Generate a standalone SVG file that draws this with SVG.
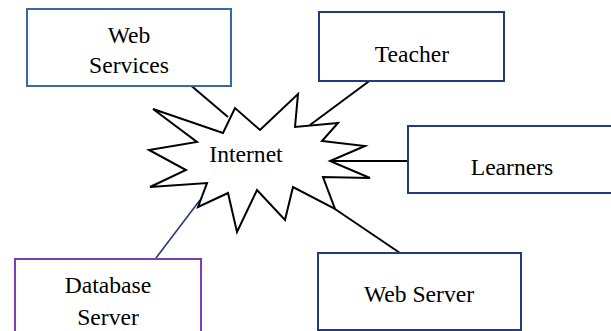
<svg xmlns="http://www.w3.org/2000/svg" width="611" height="331" viewBox="0 0 611 331">
<style>
.box{fill:#fff;stroke:#1f3d7a;stroke-width:2}
.t{font-family:'Liberation Serif','Times New Roman','DejaVu Serif',serif;font-size:23.6px;fill:#000;text-anchor:middle}
.c{fill:none;stroke:#000;stroke-width:2}
</style>
<rect width="611" height="331" fill="#fff"/>
<g id="connectors">
<line class="c" x1="188" y1="83" x2="228" y2="117"/>
<line class="c" x1="372" y1="79" x2="310" y2="125"/>
<line class="c" x1="330" y1="161" x2="408" y2="161"/>
<line class="c" x1="335" y1="209" x2="400" y2="253"/>
<line x1="200" y1="200" x2="156" y2="258" stroke="#1f3d7a" stroke-width="1.6"/>
</g>
<g id="internet">
<polygon fill="#fff" stroke="#000" stroke-width="2" stroke-linejoin="miter" points="153,109 223,133 235,108 260,130 298,94 295,127 338,123 322,141 365,146 330,161 370,178 323,177 335,209 293,187 285,220 257,190 237,232 228,193 198,207 207,183 150,187 186,170 149,150 197,142"/>
<text class="t" x="246" y="162">Internet</text>
</g>
<g id="web-services">
<rect class="box" x="27" y="9" width="204" height="77" style="stroke:#3b6aa3"/>
<text class="t" x="129" y="43">Web</text>
<text class="t" x="129" y="73">Services</text>
</g>
<g id="teacher">
<rect class="box" x="319" y="12" width="185" height="69"/>
<text class="t" x="412" y="62">Teacher</text>
</g>
<g id="learners">
<rect class="box" x="408" y="126" width="208" height="67"/>
<text class="t" x="512" y="175">Learners</text>
</g>
<g id="web-server">
<rect class="box" x="318" y="253" width="203" height="77"/>
<text class="t" x="419" y="302">Web Server</text>
</g>
<g id="database-server">
<rect class="box" x="15" y="259" width="186" height="80" style="stroke:#7a3fb8"/>
<text class="t" x="108" y="293">Database</text>
<text class="t" x="108" y="325">Server</text>
</g>
</svg>
